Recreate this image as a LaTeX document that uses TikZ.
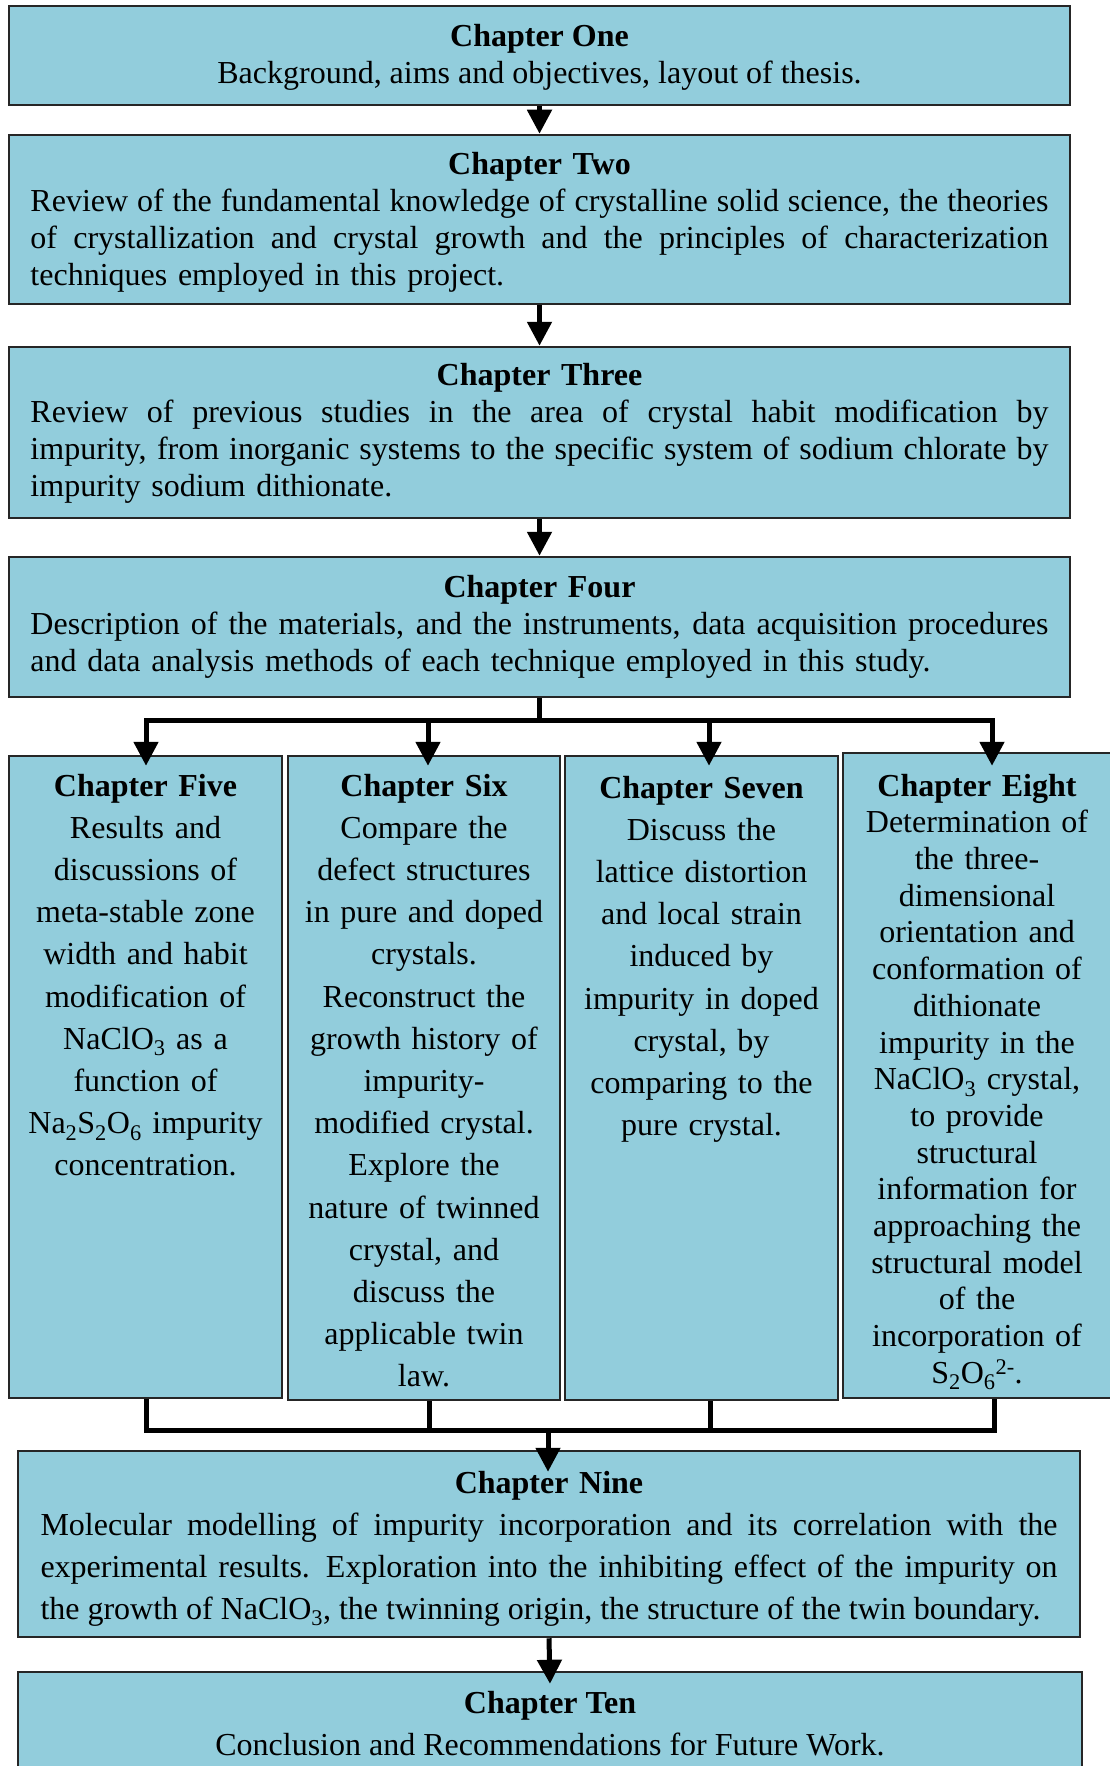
\documentclass[tikz,border=0pt]{standalone}
\usepackage{fontspec}
\setmainfont{Liberation Serif}
\usetikzlibrary{arrows.meta}
\definecolor{boxfill}{RGB}{146,205,220}
\newcommand\jlw[2]{\leavevmode\hbox to #1{\spaceskip=0.25em plus 0.6em minus 0.12em\relax#2}}
\newcommand\jl[1]{\jlw{1018pt}{#1}}
\newcommand\ttl[1]{\makebox[1018pt][c]{\textbf{#1}}}
\begin{document}
\begin{tikzpicture}[x=1pt,y=-1pt,
 box/.style={draw=black!85,line width=2.5pt,fill=boxfill,inner sep=0pt},
 txt/.style={inner sep=0pt,font=\fontsize{32}{37}\selectfont},
 coltxt/.style={inner sep=0pt,align=center,text width=265pt,anchor=north,font=\fontsize{32}{42.2}\selectfont},
 conn/.style={line width=5pt},
 arr/.style={line width=5pt,-{Triangle[length=24pt,width=24pt]}}]
\useasboundingbox (0,0) rectangle (1110,1766);
\clip (0,0) rectangle (1110,1766);
% boxes
\node[box,minimum width=1061pt,minimum height=99pt] (c1) at (539.5,55.5) {};
\node[box,minimum width=1061pt,minimum height=169pt] (c2) at (539.5,219.5) {};
\node[box,minimum width=1061pt,minimum height=171pt] (c3) at (539.5,432.5) {};
\node[box,minimum width=1061pt,minimum height=140pt] (c4) at (539.5,627) {};
\node[box,minimum width=273pt,minimum height=642pt] (c5) at (145.5,1077) {};
\node[box,minimum width=272pt,minimum height=644pt] (c6) at (424,1078) {};
\node[box,minimum width=273pt,minimum height=644pt] (c7) at (701.5,1078) {};
\node[box,minimum width=280pt,minimum height=645pt] (c8) at (983,1075.5) {};
\node[box,minimum width=1062pt,minimum height=186pt] (c9) at (549,1544) {};
\node[box,minimum width=1064pt,minimum height=128pt] (c10) at (550,1736) {};
% texts
\node[txt,align=center] (c1t) at ([yshift=-2pt]c1) {\textbf{Chapter One}\\Background, aims and objectives, layout of thesis.};
\node[txt,text width=1018pt,align=left] (c2t) at ([yshift=-3pt]c2) {\ttl{Chapter Two}\\
\jl{Review of the fundamental knowledge of crystalline solid science, the theories}\\
\jl{of crystallization and crystal growth and the principles of characterization}\\
techniques employed in this project.};
\node[txt,text width=1018pt,align=left] (c3t) at ([yshift=-1pt]c3) {\ttl{Chapter Three}\\
\jl{Review of previous studies in the area of crystal habit modification by}\\
\jl{impurity, from inorganic systems to the specific system of sodium chlorate by}\\
impurity sodium dithionate.};
\node[txt,text width=1018pt,align=left] (c4t) at (c4) {\ttl{Chapter Four}\\
\jl{Description of the materials, and the instruments, data acquisition procedures}\\
and data analysis methods of each technique employed in this study.};
\node[coltxt] (c5t) at ([yshift=-19pt]c5.north) {\textbf{Chapter Five}\\Results and\\discussions of\\meta-stable zone\\width and habit\\modification of\\NaClO\textsubscript{3} as a\\function of\\Na\textsubscript{2}S\textsubscript{2}O\textsubscript{6} impurity\\concentration.};
\node[coltxt] (c6t) at ([yshift=-19pt]c6.north) {\textbf{Chapter Six}\\Compare the\\defect structures\\in pure and doped\\crystals.\\Reconstruct the\\growth history of\\impurity-\\modified crystal.\\Explore the\\nature of twinned\\crystal, and\\discuss the\\applicable twin\\law.};
\node[coltxt] (c7t) at ([yshift=-21pt]c7.north) {\textbf{Chapter Seven}\\Discuss the\\lattice distortion\\and local strain\\induced by\\impurity in doped\\crystal, by\\comparing to the\\pure crystal.};
\node[coltxt,font=\fontsize{32}{36.7}\selectfont] (c8t) at ([xshift=-6pt,yshift=-22pt]c8.north) {\textbf{Chapter Eight}\\Determination of\\the three-\\dimensional\\orientation and\\conformation of\\dithionate\\impurity in the\\NaClO\textsubscript{3} crystal,\\to provide\\structural\\information for\\approaching the\\structural model\\of the\\incorporation of\\S\textsubscript{2}O\textsubscript{6}\textsuperscript{2-}.};
\node[txt,text width=1017pt,align=left,font=\fontsize{32}{42}\selectfont] (c9t) at ([yshift=-4.5pt]c9) {\makebox[1017pt][c]{\textbf{Chapter Nine}}\\
\jlw{1017pt}{Molecular modelling of impurity incorporation and its correlation with the}\\
\jlw{1017pt}{experimental results. Exploration into the inhibiting effect of the impurity on}\\
\jlw{1000pt}{the growth of NaClO\textsubscript{3}, the twinning origin, the structure of the twin boundary.}};
\node[txt,align=center,font=\fontsize{32}{42.5}\selectfont] (c10t) at ([yshift=-53pt]c10.north) {\textbf{Chapter Ten}\\Conclusion and Recommendations for Future Work.};
% connectors
\coordinate (b5) at (146,720);
\coordinate (b6) at (428,720);
\coordinate (b7) at (709,720);
\coordinate (b8) at (992,720);
\coordinate (m5) at (146,1430);
\coordinate (m6) at (429,1430);
\coordinate (m7) at (710,1430);
\coordinate (m8) at (994,1430);
\coordinate (m9) at (548,1430);
\draw[arr] (c1.south) -- (c2.north);
\draw[arr] (c2.south) -- (c3.north);
\draw[arr] (c3.south) -- (c4.north);
\draw[conn] (c4.south) -- (c4.south |- b5);
\draw[conn,line cap=rect] (b5) -- (b8);
\draw[arr] (b5) -- ([yshift=-11pt]b5 |- c5.north);
\draw[arr] (b6) -- ([yshift=-11pt]b6 |- c6.north);
\draw[arr] (b7) -- ([yshift=-11pt]b7 |- c7.north);
\draw[arr] (b8) -- ([yshift=-14pt]b8 |- c8.north);
\draw[conn] (m5 |- c5.south) -- (m5);
\draw[conn] (m6 |- c6.south) -- (m6);
\draw[conn] (m7 |- c7.south) -- (m7);
\draw[conn] (m8 |- c8.south) -- (m8);
\draw[conn,line cap=rect] (m5) -- (m8);
\draw[arr] (m9) -- ([yshift=-22pt]m9 |- c9.north);
\draw[arr] (c9.south) -- ([yshift=-13pt]c10.north);
\end{tikzpicture}
\end{document}
